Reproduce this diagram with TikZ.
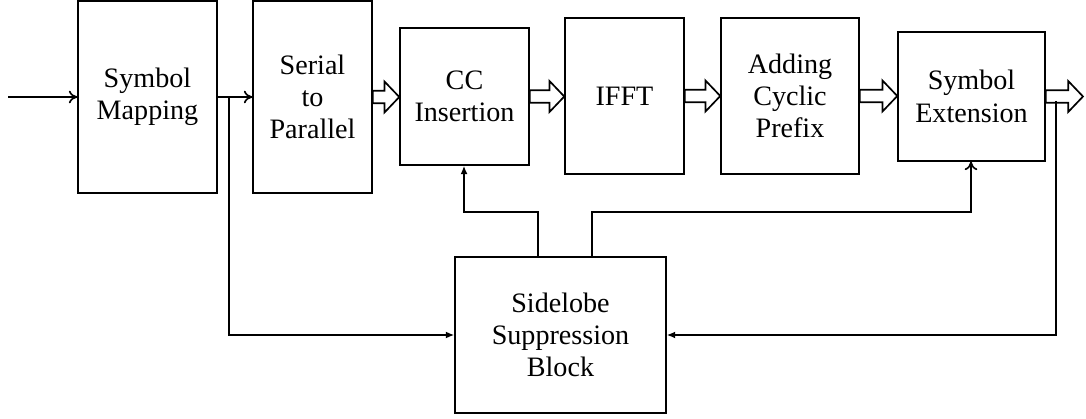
\documentclass[tikz,border=0pt]{standalone}
\usepackage{fontspec}
\setmainfont{Liberation Serif}
\usetikzlibrary{arrows.meta,calc}

\tikzset{
  blk/.style={draw, line width=1pt, align=center, inner sep=2pt,
    font=\fontsize{20}{23}\selectfont},
  con/.style={line width=1.2pt},
}
% hollow block arrow between two boxes
\newcommand{\fatarrow}[2]{%
  \draw[line width=1.2pt] let \p1=(#1.east), \p2=(#2) in
    (\x1,\y1+4.5pt) -- (\x2-10.5pt,\y1+4.5pt) -- (\x2-10.5pt,\y1+11pt)
    -- (\x2,\y1) -- (\x2-10.5pt,\y1-11pt) -- (\x2-10.5pt,\y1-4.5pt)
    -- (\x1,\y1-4.5pt) -- cycle;}

\begin{document}
\begin{tikzpicture}[x=0.025cm, y=-0.025cm]
  \useasboundingbox (0,0) rectangle (1086,419);

  \node[blk, minimum width=3.475cm, minimum height=4.8cm] (map) at (147.5,97) {Symbol\\Mapping};
  \node[blk, minimum width=2.975cm, minimum height=4.8cm] (s2p) at (312.5,97) {Serial\\to\\Parallel};
  \node[blk, minimum width=3.225cm, minimum height=3.425cm] (cc) at (464.5,96.5) {CC\\Insertion};
  \node[blk, minimum width=2.975cm, minimum height=3.9cm] (ifft) at (624.5,96) {IFFT};
  \node[blk, minimum width=3.45cm, minimum height=3.9cm] (cp) at (790,96) {Adding\\Cyclic\\Prefix};
  \node[blk, minimum width=3.675cm, minimum height=3.225cm] (ext) at (971.5,96.5) {Symbol\\Extension};
  \node[blk, minimum width=5.275cm, minimum height=3.9cm] (ssb) at (560.5,335) {Sidelobe\\Suppression\\Block};

  \coordinate (in) at (8,97);
  \coordinate (out) at (1083,97);
  \coordinate (tapa) at (229,97);
  \coordinate (tapb) at (1056,101);

  % serial path
  \draw[con, -{To[length=6pt, width=9pt]}] (in) -- (map.west |- in);
  \draw[con, -{To[length=6pt, width=9pt]}] (map.east |- in) -- (s2p.west |- in);

  % parallel path
  \fatarrow{s2p}{cc.west}
  \fatarrow{cc}{ifft.west}
  \fatarrow{ifft}{cp.west}
  \fatarrow{cp}{ext.west}
  \fatarrow{ext}{out}

  % taps into the suppression block
  \draw[con, -{Latex[length=6pt, width=5pt]}] (tapa) |- (ssb.west);
  \draw[con, -{Latex[length=6pt, width=5pt]}] (tapb) |- (ssb.east);

  % feedback from the suppression block
  \draw[con, -{Latex[length=6pt, width=5pt]}] (ssb.north -| 538,0) |- (464,212) -- (cc.south -| 464,0);
  \draw[con, -{To[length=6pt, width=9pt]}] (ssb.north -| 592,0) |- (971,212) -- (ext.south -| 971,0);
\end{tikzpicture}
\end{document}
